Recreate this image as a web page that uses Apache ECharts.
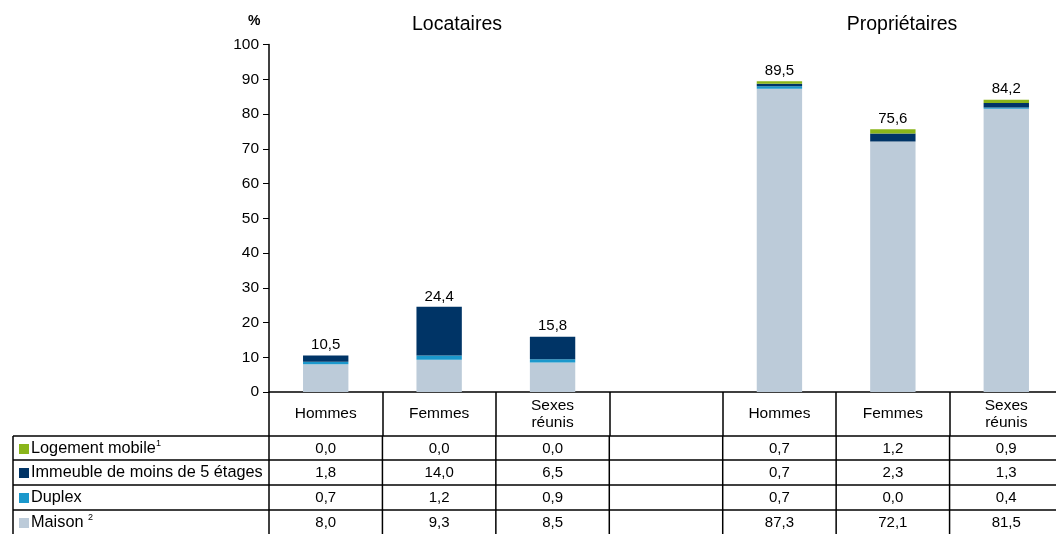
<!DOCTYPE html>
<html>
<head>
<meta charset="utf-8">
<script src="https://cdn.jsdelivr.net/npm/echarts@6/dist/echarts.min.js"></script>
<style>
html, body { margin: 0; padding: 0; background: #fff; overflow: hidden; width: 1056px; height: 534px; }
#main { width: 1064px; height: 534px; }
</style>
</head>
<body>
<div id="main"></div>
<script>
/* donnees */
var categories = ['Hommes', 'Femmes', 'Sexes\nréunis', '', 'Hommes', 'Femmes', 'Sexes\nréunis'];
var groupTitles = ['Locataires', 'Propriétaires'];
var mobile   = [0.0, 0.0, 0.0, null, 0.7, 1.2, 0.9];
var immeuble = [1.8, 14.0, 6.5, null, 0.7, 2.3, 1.3];
var duplex   = [0.7, 1.2, 0.9, null, 0.7, 0.0, 0.4];
var maison   = [8.0, 9.3, 8.5, null, 87.3, 72.1, 81.5];
var totals   = [10.5, 24.4, 15.8, null, 89.5, 75.6, 84.2];

var font = 'Liberation Sans, Arial, sans-serif';

function fr(v) {
    return v == null ? '' : v.toFixed(1).replace('.', ',');
}

// base echarts
var myChart = echarts.init(document.getElementById('main'));

var rows = [
    {name: 'Logement mobile', label: 'Logement mobile{sup|1}', color: '#8ab51a', data: mobile},
    {name: 'Immeuble de moins de 5 étages', label: 'Immeuble de moins de 5 étages', color: '#003466', data: immeuble},
    {name: 'Duplex', label: 'Duplex', color: '#1b98cc', data: duplex},
    {name: 'Maison', label: 'Maison {sup|2}', color: '#bccbd9', data: maison}
];

// empilement du bas vers le haut
var series = [];
for (var i = rows.length - 1; i >= 0; i--) {
    var s = {
        name: rows[i].name,
        type: 'bar',
        stack: 'total',
        barWidth: '40%',
        itemStyle: {color: rows[i].color},
        data: rows[i].data
    };
    if (i == 0) {
        s.label = {
            show: true,
            position: 'top',
            distance: 3,
            color: '#000',
            fontFamily: font,
            fontSize: 15,
            formatter: function (p) { return fr(totals[p.dataIndex]); }
        };
    }
    series.push(s);
}

var option = {
    animation: false,
    grid: {left: 269, top: 44.5, right: 1, height: 347.5},
    xAxis: {
        type: 'category',
        data: categories,
        axisLine: {lineStyle: {color: '#000', width: 1.5}},
        axisTick: {show: true, length: 44, lineStyle: {color: '#000', width: 1.5}},
        axisLabel: {
            interval: 0,
            color: '#000',
            fontFamily: font,
            fontSize: 15.5,
            lineHeight: 17,
            margin: 22,
            verticalAlign: 'middle'
        }
    },
    yAxis: {
        type: 'value',
        min: 0,
        max: 100,
        interval: 10,
        axisLine: {show: true, lineStyle: {color: '#000', width: 1.5}},
        axisTick: {show: true, length: 6, lineStyle: {color: '#000'}},
        axisLabel: {color: '#000', fontFamily: font, fontSize: 15.5, margin: 10},
        splitLine: {show: false}
    },
    series: series
};

myChart.setOption(option);

/* tableau + titres */
var g = [];
var xs = [];
for (var k = 0; k < categories.length; k++) {
    xs.push(myChart.convertToPixel({xAxisIndex: 0}, k));
}
var step = xs[1] - xs[0];
var x0 = xs[0] - step / 2;
var xEnd = xs[xs.length - 1] + step / 2;
var tableLeft = 13;
var rowTops = [436, 460, 485, 510];
var rowH = 25;

g.push({type: 'text', left: 248, top: 14, style: {text: '%', font: 'bold 14px ' + font, fill: '#000'}});
g.push({type: 'text', x: 457, y: 25, style: {text: groupTitles[0], font: '19.5px ' + font, fill: '#000', align: 'center', verticalAlign: 'middle'}});
g.push({type: 'text', x: 902, y: 25, style: {text: groupTitles[1], font: '19.5px ' + font, fill: '#000', align: 'center', verticalAlign: 'middle'}});

// lignes horizontales
for (var r = 0; r < rowTops.length; r++) {
    g.push({type: 'line', shape: {x1: tableLeft, y1: rowTops[r], x2: xEnd, y2: rowTops[r]}, style: {stroke: '#000', lineWidth: 1.5}});
}
// lignes verticales
g.push({type: 'line', shape: {x1: tableLeft, y1: rowTops[0], x2: tableLeft, y2: 540}, style: {stroke: '#000', lineWidth: 1.5}});
for (var c = 0; c <= categories.length; c++) {
    var xb = x0 + c * step;
    g.push({type: 'line', shape: {x1: xb, y1: rowTops[0], x2: xb, y2: 540}, style: {stroke: '#000', lineWidth: 1.5}});
}

for (var r = 0; r < rows.length; r++) {
    var cy = rowTops[r] + rowH / 2;
    g.push({type: 'rect', shape: {x: 19, y: cy - 4.5, width: 10, height: 10}, style: {fill: rows[r].color}});
    g.push({type: 'text', x: 31, y: cy, style: {
        text: rows[r].label, font: '16.3px ' + font, fill: '#000', verticalAlign: 'middle',
        rich: {sup: {fontSize: 9, fontFamily: font, verticalAlign: 'top', padding: [0, 0, 9, 0]}}
    }});
    for (var k = 0; k < categories.length; k++) {
        if (rows[r].data[k] == null) continue;
        g.push({type: 'text', x: xs[k], y: cy, style: {
            text: fr(rows[r].data[k]), font: '15px ' + font, fill: '#000', align: 'center', verticalAlign: 'middle'
        }});
    }
}

myChart.setOption({graphic: g});
</script>
</body>
</html>
